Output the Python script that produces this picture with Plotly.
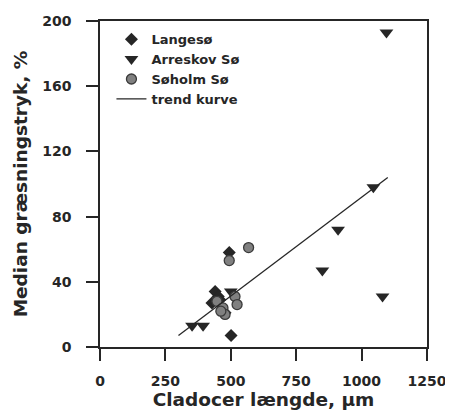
import plotly.graph_objects as go

# Langesø (diamonds)
lange_x = [494, 501, 440, 428, 458, 478, 452]
lange_y = [58, 7, 34, 27, 29, 21, 31]
# Arreskov Sø (down triangles)
arre_x = [1095, 1045, 910, 850, 1080, 352, 394, 500]
arre_y = [193, 98, 72, 47, 31, 13, 13, 34]
# Søholm Sø (gray circles)
soholm_x = [568, 494, 447, 470, 478, 516, 524, 462]
soholm_y = [61, 53, 28, 24, 20, 31, 26, 22]
# trend line
trend_x = [300, 1100]
trend_y = [7, 104]

xticks = [0, 250, 500, 750, 1000, 1250]
yticks = [0, 40, 80, 120, 160, 200]

font_family = "DejaVu Sans, sans-serif"
dark = "#262626"

fig = go.Figure()
fig.add_trace(go.Scatter(x=lange_x, y=lange_y, mode="markers", name="Langesø",
                         marker=dict(symbol="diamond", size=10, color=dark)))
fig.add_trace(go.Scatter(x=arre_x, y=arre_y, mode="markers", name="Arreskov Sø",
                         marker=dict(symbol="triangle-down", size=12, color=dark)))
fig.add_trace(go.Scatter(x=soholm_x, y=soholm_y, mode="markers", name="Søholm Sø",
                         marker=dict(symbol="circle", size=10, color="#808080",
                                     line=dict(color="#3a3a3a", width=1.3))))
fig.add_trace(go.Scatter(x=trend_x, y=trend_y, mode="lines", name="trend kurve",
                         line=dict(color=dark, width=1.3)))

axis_common = dict(showline=True, linecolor=dark, linewidth=1.5, mirror=True,
                   ticks="outside", ticklen=12, tickwidth=1.5, tickcolor=dark,
                   showgrid=False, zeroline=False, automargin=False,
                   tickfont=dict(family=font_family, size=14, color=dark, weight="bold"))

# the page body has an 8px margin, so the figure is sized to fill the rest of the window
fig.update_layout(
    width=445, height=411,
    margin=dict(l=92, r=26, t=13, b=72),
    paper_bgcolor="white", plot_bgcolor="white",
    font=dict(family=font_family, color=dark),
    xaxis=dict(range=[0, 1250], tickvals=xticks, ticklabelstandoff=8,
               title=dict(text="Cladocer længde, µm", standoff=6,
                          font=dict(family=font_family, size=18.5, weight="bold")),
               **axis_common),
    yaxis=dict(range=[0, 200], tickvals=yticks, ticklabelstandoff=12,
               title=dict(text="Median græsningstryk, %", standoff=10,
                          font=dict(family=font_family, size=18.5, weight="bold")),
               **axis_common),
    legend=dict(x=0.035, y=0.99, xanchor="left", yanchor="top",
                bgcolor="rgba(0,0,0,0)", tracegroupgap=0, itemwidth=30,
                font=dict(family=font_family, size=13, weight="bold")),
)

fig.write_html("out.html")
